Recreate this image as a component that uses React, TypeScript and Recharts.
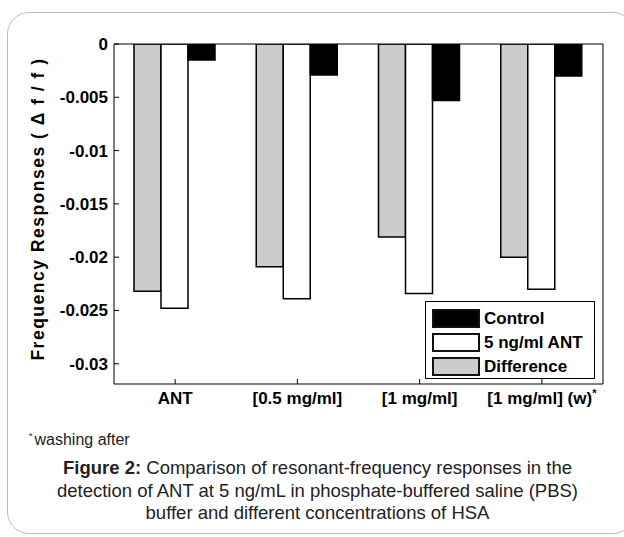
import React from 'react';
import { BarChart, Bar, XAxis, YAxis, ReferenceLine, Legend } from 'recharts';

const categories = ['ANT', '[0.5 mg/ml]', '[1 mg/ml]', '[1 mg/ml] (w)*'];
const controlValues = [-0.0015, -0.0029, -0.0053, -0.003];
const antValues = [-0.0248, -0.0239, -0.0234, -0.023];
const differenceValues = [-0.0232, -0.0209, -0.0181, -0.02];
const yTicks = [0, -0.005, -0.01, -0.015, -0.02, -0.025, -0.03];
const yTickLabels = ['0', '-0.005', '-0.01', '-0.015', '-0.02', '-0.025', '-0.03'];
const seriesNames = { control: 'Control', ant: '5 ng/ml ANT', diff: 'Difference' };
const yAxisTitle = 'Frequency Responses ( \u0394 f / f )';
const footnote = 'washing after';
const captionBold = 'Figure 2:';
const captionLines = [
  ' Comparison of resonant-frequency responses in the',
  'detection of ANT at 5 ng/mL in phosphate-buffered saline (PBS)',
  'buffer and different concentrations of HSA',
];

const data = categories.map((name, i) => ({
  name,
  control: controlValues[i],
  ant: antValues[i],
  diff: differenceValues[i],
}));

const FONT = '"Liberation Sans", Arial, Helvetica, sans-serif';
const COLORS = { control: '#000000', ant: '#ffffff', diff: '#cccccc' };
const legendOrder: Array<'control' | 'ant' | 'diff'> = ['control', 'ant', 'diff'];

const XTick = (props: any) => {
  const { x, y, payload } = props;
  const label: string = String(payload.value);
  const star = label.endsWith('*');
  const main = star ? label.slice(0, -1) : label;
  return (
    <text x={x} y={y} dy="0.71em" textAnchor="middle" fontFamily={FONT} fontWeight="bold" fontSize={17} fill="#000">
      {main}
      {star && (
        <tspan fontSize={11} dy={-7}>
          *
        </tspan>
      )}
    </text>
  );
};

const renderYLabel = (props: any) => {
  const vb = props.viewBox || { x: 0, y: 44, width: 114, height: 340 };
  const cx = vb.x + 44;
  const cy = vb.y + vb.height / 2 - 5;
  return (
    <text
      x={cx}
      y={cy}
      transform={`rotate(-90 ${cx} ${cy})`}
      textAnchor="middle"
      fontFamily={FONT}
      fontWeight="bold"
      fontSize={17.5}
      letterSpacing={1.5}
      fill="#000"
    >
      {yAxisTitle}
    </text>
  );
};

const LegendBox = () => (
  <div
    style={{
      width: 170,
      height: 78,
      boxSizing: 'border-box',
      border: '1px solid #000',
      background: '#fff',
      padding: '4px 0 0 6px',
      fontFamily: FONT,
      fontWeight: 'bold',
      fontSize: 17,
      color: '#000',
      textAlign: 'left',
    }}
  >
    {legendOrder.map((k) => (
      <div key={k} style={{ display: 'flex', alignItems: 'center', height: 24 }}>
        <div
          style={{
            width: 48,
            height: 19,
            boxSizing: 'border-box',
            border: '2px solid #111',
            background: COLORS[k],
            marginRight: 4,
          }}
        />
        <span style={{ lineHeight: '19px' }}>{seriesNames[k]}</span>
      </div>
    ))}
  </div>
);

export default function App() {
  return (
    <div
      style={{
        position: 'absolute',
        left: 0,
        top: 0,
        width: 624,
        height: 537,
        overflow: 'hidden',
        background: '#fff',
      }}
    >
      <div
        style={{
          position: 'absolute',
          left: 7,
          top: 12,
          width: 628,
          height: 522,
          border: '1px solid #bdbdbd',
          borderRadius: 22,
          boxSizing: 'border-box',
        }}
      />
      <div style={{ position: 'absolute', left: 0, top: 0 }}>
        <BarChart
          width={624}
          height={430}
          data={data}
          margin={{ top: 44, right: 0, bottom: 16, left: 0 }}
          barCategoryGap={20}
          barGap={0}
        >
          <XAxis
            dataKey="name"
            height={30}
            tick={<XTick />}
            tickSize={-5}
            tickMargin={13}
            axisLine={{ stroke: '#000', strokeWidth: 1 }}
            tickLine={{ stroke: '#000', strokeWidth: 1 }}
            interval={0}
          />
          <YAxis
            yAxisId="left"
            width={114}
            domain={[-0.0319, 0]}
            ticks={yTicks}
            interval={0}
            allowDataOverflow
            tickFormatter={(v: number) => {
              const idx = yTicks.findIndex((t) => Math.abs(t - v) < 1e-9);
              return idx >= 0 ? yTickLabels[idx] : String(v);
            }}
            tick={{ fontFamily: FONT, fontWeight: 'bold', fontSize: 17, fill: '#000' }}
            tickSize={-5}
            tickMargin={11}
            axisLine={{ stroke: '#000', strokeWidth: 1 }}
            tickLine={{ stroke: '#000', strokeWidth: 1 }}
            label={renderYLabel}
          />
          <YAxis
            yAxisId="right"
            orientation="right"
            width={21}
            domain={[-0.0319, 0]}
            ticks={yTicks}
            interval={0}
            allowDataOverflow
            tick={false}
            tickSize={-5}
            axisLine={{ stroke: '#000', strokeWidth: 1 }}
            tickLine={{ stroke: '#000', strokeWidth: 1 }}
          />
          <Bar yAxisId="left" dataKey="diff" name={seriesNames.diff} fill={COLORS.diff} stroke="#000" strokeWidth={1.5} isAnimationActive={false} />
          <Bar yAxisId="left" dataKey="ant" name={seriesNames.ant} fill={COLORS.ant} stroke="#000" strokeWidth={1.5} isAnimationActive={false} />
          <Bar yAxisId="left" dataKey="control" name={seriesNames.control} fill={COLORS.control} stroke="#000" strokeWidth={1.5} isAnimationActive={false} />
          <ReferenceLine yAxisId="left" y={0} stroke="#000" strokeWidth={1} />
          <Legend
            layout="vertical"
            align="center"
            verticalAlign="middle"
            content={<LegendBox />}
            wrapperStyle={{ left: 425, top: 301, width: 170, height: 78 }}
          />
        </BarChart>
      </div>
      <div
        style={{
          position: 'absolute',
          left: 29,
          top: 430,
          height: 20,
          fontFamily: FONT,
          fontSize: 16,
          lineHeight: '20px',
          color: '#222',
          whiteSpace: 'nowrap',
        }}
      >
        <span style={{ fontSize: 9, position: 'relative', top: -6, marginRight: 2 }}>*</span>
        {footnote}
      </div>
      <div
        style={{
          position: 'absolute',
          left: 0,
          top: 457,
          width: 635,
          fontFamily: FONT,
          fontSize: 18.5,
          lineHeight: '22.5px',
          color: '#222',
          textAlign: 'center',
        }}
      >
        {captionLines.map((line, i) => (
          <div key={i} style={{ whiteSpace: 'nowrap', height: 22.5 }}>
            {i === 0 && <b>{captionBold}</b>}
            <span>{line}</span>
          </div>
        ))}
      </div>
    </div>
  );
}
